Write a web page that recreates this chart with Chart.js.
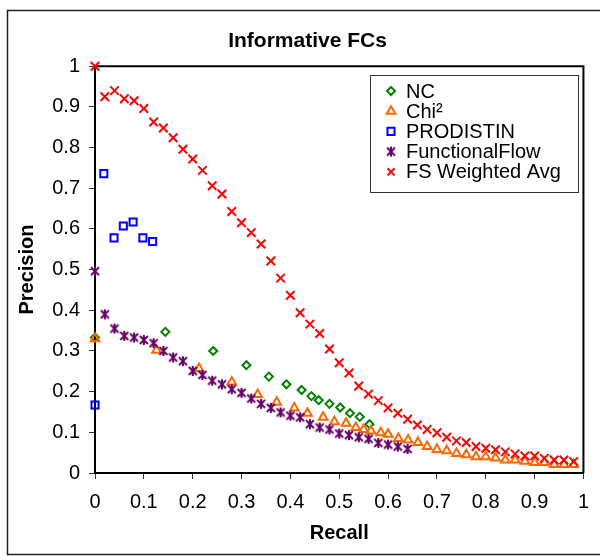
<!DOCTYPE html>
<html><head><meta charset="utf-8">
<script src="https://cdn.jsdelivr.net/npm/chart.js@4"></script>
<style>html,body{margin:0;padding:0;background:#fff}#wrap{width:600px;height:556px}</style>
</head><body><div id="wrap"><canvas id="c" width="600" height="556"></canvas></div>
<script>
const chartTitle = 'Informative FCs';
const xAxisTitle = 'Recall';
const yAxisTitle = 'Precision';
const xTickLabels = ['0','0.1','0.2','0.3','0.4','0.5','0.6','0.7','0.8','0.9','1'];
const yTickLabels = ['0','0.1','0.2','0.3','0.4','0.5','0.6','0.7','0.8','0.9','1'];
const seriesNames = ['NC','Chi²','PRODISTIN','FunctionalFlow','FS Weighted Avg'];

const ncRecall    = [0, 0.144, 0.242, 0.31, 0.356, 0.392, 0.423, 0.443, 0.458, 0.48, 0.502, 0.522, 0.542, 0.562];
const ncPrecision = [0.333, 0.347, 0.30, 0.265, 0.237, 0.218, 0.204, 0.189, 0.179, 0.17, 0.161, 0.147, 0.138, 0.12];

const chiRecall    = [0, 0.126, 0.213, 0.28, 0.333, 0.372, 0.408, 0.435, 0.467, 0.49, 0.514, 0.534, 0.55, 0.565, 0.585, 0.60, 0.621, 0.641, 0.661, 0.68, 0.70, 0.72, 0.74, 0.76, 0.78, 0.80, 0.82, 0.84, 0.86, 0.88, 0.90, 0.92, 0.94, 0.96, 0.98];
const chiPrecision = [0.33, 0.302, 0.257, 0.224, 0.193, 0.174, 0.16, 0.147, 0.137, 0.126, 0.122, 0.112, 0.107, 0.103, 0.099, 0.095, 0.085, 0.081, 0.075, 0.065, 0.058, 0.055, 0.048, 0.045, 0.04, 0.04, 0.037, 0.032, 0.032, 0.029, 0.026, 0.026, 0.021, 0.021, 0.021];

const prodRecall    = [0, 0.018, 0.039, 0.058, 0.078, 0.098, 0.118];
const prodPrecision = [0.167, 0.736, 0.578, 0.607, 0.617, 0.578, 0.569];

const ffRecall    = [0, 0.02, 0.04, 0.06, 0.08, 0.10, 0.12, 0.14, 0.16, 0.18, 0.20, 0.22, 0.24, 0.26, 0.28, 0.30, 0.32, 0.34, 0.36, 0.38, 0.40, 0.42, 0.44, 0.46, 0.48, 0.50, 0.52, 0.54, 0.56, 0.58, 0.60, 0.62, 0.64];
const ffPrecision = [0.496, 0.39, 0.355, 0.337, 0.333, 0.327, 0.319, 0.30, 0.284, 0.275, 0.251, 0.241, 0.227, 0.218, 0.206, 0.197, 0.183, 0.17, 0.16, 0.149, 0.141, 0.137, 0.12, 0.112, 0.107, 0.097, 0.093, 0.088, 0.084, 0.074, 0.07, 0.065, 0.059];

const fsRecall    = [0, 0.02, 0.04, 0.06, 0.08, 0.10, 0.12, 0.14, 0.16, 0.18, 0.20, 0.22, 0.24, 0.26, 0.28, 0.30, 0.32, 0.34, 0.36, 0.38, 0.40, 0.42, 0.44, 0.46, 0.48, 0.50, 0.52, 0.54, 0.56, 0.58, 0.60, 0.62, 0.64, 0.66, 0.68, 0.70, 0.72, 0.74, 0.76, 0.78, 0.80, 0.82, 0.84, 0.86, 0.88, 0.90, 0.92, 0.94, 0.96, 0.98];
const fsPrecision = [1.0, 0.925, 0.94, 0.92, 0.915, 0.896, 0.863, 0.848, 0.824, 0.796, 0.772, 0.744, 0.706, 0.686, 0.643, 0.615, 0.591, 0.563, 0.521, 0.479, 0.437, 0.394, 0.366, 0.343, 0.305, 0.271, 0.246, 0.214, 0.194, 0.178, 0.16, 0.147, 0.132, 0.118, 0.107, 0.099, 0.088, 0.079, 0.075, 0.065, 0.061, 0.057, 0.052, 0.047, 0.042, 0.042, 0.036, 0.032, 0.032, 0.028];

const FONT = "'Liberation Sans', Arial, sans-serif";

function zip(xs, ys){ return xs.map((x,i)=>({x:x, y:ys[i]})); }

function makeAsterisk(color){
  const s = 12, c = document.createElement('canvas');
  c.width = s; c.height = s;
  const g = c.getContext('2d');
  g.strokeStyle = color; g.lineWidth = 2;
  g.beginPath();
  g.moveTo(2,2); g.lineTo(10,10);
  g.moveTo(10,2); g.lineTo(2,10);
  g.moveTo(6,1); g.lineTo(6,11);
  g.stroke();
  return c;
}

function ds(label, data, style, color, radius, bw, order){
  return {label:label, data:data, pointStyle:style, borderColor:color, backgroundColor:'rgba(0,0,0,0)',
    pointRadius:radius, pointBorderWidth:bw, borderWidth:bw, pointHoverRadius:radius, showLine:false, clip:false, order:order};
}

const datasets = [
  ds(seriesNames[0], zip(ncRecall, ncPrecision), 'rectRot', '#008000', 4, 2, 5),
  ds(seriesNames[1], zip(chiRecall, chiPrecision), 'triangle', '#FF6600', 5, 2, 4),
  ds(seriesNames[2], zip(prodRecall, prodPrecision), 'rect', '#0000FF', 5, 2, 3),
  ds(seriesNames[3], zip(ffRecall, ffPrecision), makeAsterisk('#660066'), '#660066', 6, 2, 2),
  ds(seriesNames[4], zip(fsRecall, fsPrecision), 'crossRot', '#FF0000', 6, 2, 1)
];

const framePlugin = {
  id:'frame',
  afterLayout(chart){
    const t = chart.titleBlock;
    if (t){ t.left += 10; t.right += 10; }
  },
  beforeDraw(chart){
    const ctx = chart.ctx;
    ctx.save();
    ctx.fillStyle = '#fff'; ctx.fillRect(0,0,chart.width,chart.height);
    ctx.strokeStyle = '#222'; ctx.lineWidth = 1.5;
    ctx.strokeRect(7.5, 10.5, 600, 544);
    ctx.restore();
  },
  beforeDatasetsDraw(chart){
    const a = chart.chartArea, ctx = chart.ctx;
    ctx.save();
    ctx.strokeStyle = '#000'; ctx.lineWidth = 2;
    ctx.beginPath();
    ctx.moveTo(a.left, a.top); ctx.lineTo(a.right, a.top); ctx.lineTo(a.right, a.bottom);
    ctx.stroke();
    ctx.restore();
  },
  afterDraw(chart){
    const ctx = chart.ctx;
    ctx.save();
    ctx.strokeStyle = '#333'; ctx.lineWidth = 1;
    ctx.strokeRect(370.5, 75.5, 208, 117);
    chart.data.datasets.forEach((d, i) => {
      const y = 91 + i * 20.2;
      ctx.strokeStyle = d.borderColor; ctx.fillStyle = 'rgba(0,0,0,0)'; ctx.lineWidth = d.borderWidth;
      Chart.helpers.drawPoint(ctx, {pointStyle:d.pointStyle, radius:Math.min(d.pointRadius,5), borderWidth:d.borderWidth, rotation:0}, 391, y);
      ctx.fillStyle = '#000';
      ctx.font = '20px ' + FONT;
      ctx.textBaseline = 'middle'; ctx.textAlign = 'left';
      ctx.fillText(d.label, 406, y + 1);
    });
    ctx.restore();
  }
};

new Chart(document.getElementById('c'), {
  type:'scatter',
  data:{datasets:datasets},
  plugins:[framePlugin],
  options:{
    responsive:false, animation:false, devicePixelRatio:1,
    layout:{padding:{left:7, right:12, top:0, bottom:3}},
    plugins:{
      legend:{display:false},
      tooltip:{enabled:false},
      title:{display:true, text:chartTitle, color:'#000', font:{family:FONT, size:21, weight:'bold'}, padding:{top:29, bottom:12}}
    },
    scales:{
      x:{type:'linear', min:0, max:1,
        ticks:{stepSize:0.1, autoSkip:false, maxRotation:0, color:'#000', font:{family:FONT, size:20}, padding:11,
          callback:(v,i)=>xTickLabels[i]},
        grid:{display:true, drawOnChartArea:false, drawTicks:true, tickLength:6, color:'#333', lineWidth:1},
        border:{display:true, color:'#000', width:2},
        title:{display:true, text:xAxisTitle, color:'#000', font:{family:FONT, size:20, weight:'bold'}, padding:{top:0, bottom:8}},
        afterFit(s){ s.height = 80; }
      },
      y:{type:'linear', min:0, max:1,
        ticks:{stepSize:0.1, autoSkip:false, color:'#000', font:{family:FONT, size:20}, padding:9,
          callback:(v,i)=>yTickLabels[i]},
        grid:{display:true, drawOnChartArea:false, drawTicks:true, tickLength:6, color:'#333', lineWidth:1},
        border:{display:true, color:'#000', width:2},
        title:{display:true, text:yAxisTitle, color:'#000', font:{family:FONT, size:20, weight:'bold'}, padding:{top:8, bottom:0}},
        afterFit(s){ s.width = 88; }
      }
    }
  }
});
</script>
</body></html>
